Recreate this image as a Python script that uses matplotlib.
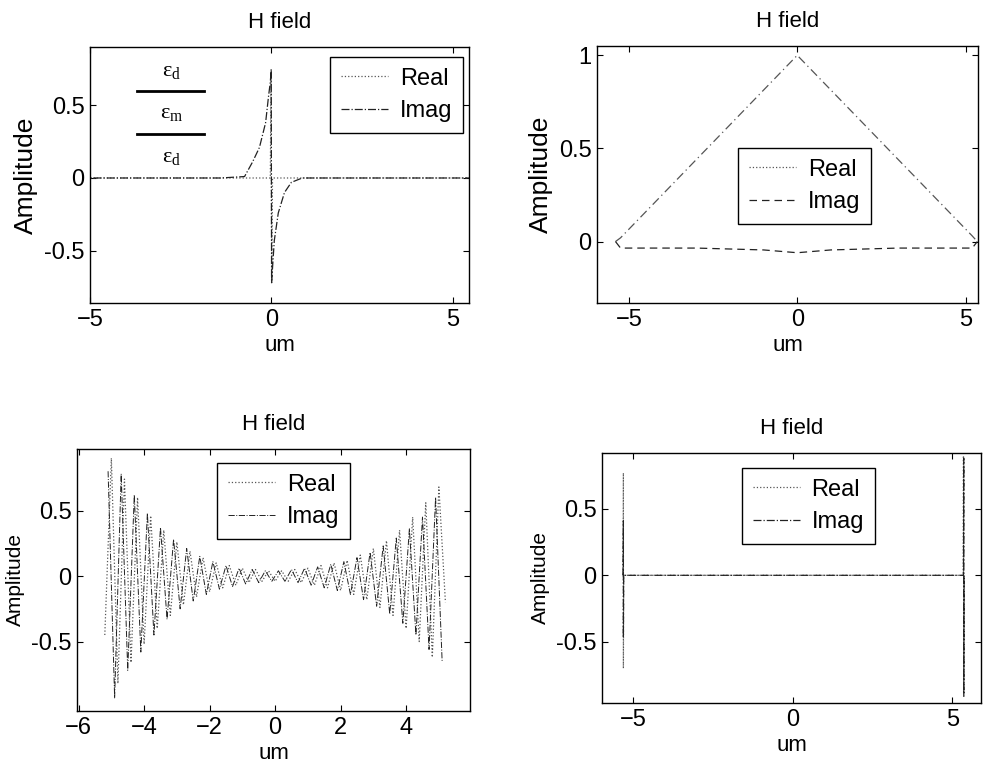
import matplotlib
matplotlib.use("Agg")
import matplotlib.pyplot as plt
from matplotlib.lines import Line2D
import numpy as np

plt.rcParams['font.family'] = ['Liberation Sans', 'DejaVu Sans']
plt.rcParams['mathtext.fontset'] = 'custom'
plt.rcParams['mathtext.rm'] = 'Liberation Serif'
plt.rcParams['mathtext.it'] = 'Liberation Serif'

# panel 1: surface mode, field bound to the metal layer
p1_real_x = [-6.0, -0.03, -0.01, 0.0, 0.01, 0.03, 6.0]
p1_real_y = [0.0, 0.0, 0.73, 0.0, -0.72, 0.0, 0.0]
p1_imag_x = [-6.0, -1.4, -0.74, -0.52, -0.33, -0.16, -0.08, -0.03, -0.005,
             0.005, 0.02, 0.08, 0.19, 0.36, 0.55, 0.85, 6.0]
p1_imag_y = [0.0, 0.0, 0.01, 0.11, 0.21, 0.38, 0.56, 0.66, 0.75,
             -0.72, -0.66, -0.43, -0.24, -0.10, -0.03, 0.0, 0.0]

# panel 2: triangle mode
p2_real_x = [-5.4, -5.25, 0.0, 5.2, 5.35]
p2_real_y = [0.0, 0.02, 1.0, 0.03, 0.0]
p2_imag_x = [-5.4, -5.25, -3.0, -1.0, 0.0, 1.0, 3.0, 5.2, 5.35]
p2_imag_y = [0.0, -0.035, -0.035, -0.045, -0.06, -0.045, -0.035, -0.035, 0.0]

# panel 3: oscillating mode (sample grid every 0.2 um)
p3_real_x = np.linspace(-5.2, 5.2, 53)
p3_real_y = [-0.45, 0.90, -0.82, 0.74, -0.66, 0.60, -0.52, 0.46, -0.40, 0.35,
             -0.30, 0.26, -0.22, 0.19, -0.16, 0.14, -0.12, 0.10, -0.09, 0.08,
             -0.07, 0.06, -0.05, 0.05, -0.04, 0.04,
             -0.04,
             0.04, -0.04, 0.05, -0.05, 0.06, -0.07, 0.08, -0.09, 0.10, -0.11,
             0.12, -0.14, 0.16, -0.18, 0.21, -0.24, 0.27, -0.30, 0.35, -0.40,
             0.45, -0.50, 0.56, -0.62, 0.68, -0.20]
p3_imag_x = np.linspace(-5.1, 5.1, 52)
p3_imag_y = [0.80, -0.93, 0.78, -0.72, 0.62, -0.58, 0.48, -0.45, 0.37, -0.33,
             0.28, -0.25, 0.21, -0.19, 0.15, -0.14, 0.11, -0.10, 0.08, -0.08,
             0.06, -0.06, 0.05, -0.05, 0.04, -0.04,
             0.04, -0.04, 0.05, -0.05, 0.06, -0.07, 0.07, -0.09, 0.09, -0.11,
             0.11, -0.14, 0.14, -0.18, 0.18, -0.23, 0.23, -0.29, 0.29, -0.36,
             0.36, -0.45, 0.45, -0.56, 0.60, -0.65]

# panel 4: field only at the boundaries
p4_real_x = [-5.31, -5.30, -5.30, -5.29, 5.34, 5.35, 5.36, 5.37]
p4_real_y = [0.0, 0.77, -0.70, 0.0, 0.0, 0.90, -0.92, 0.0]
p4_imag_x = [-5.31, -5.30, -5.30, -5.29, 5.35, 5.36, 5.36, 5.37]
p4_imag_y = [0.0, 0.41, -0.47, 0.0, 0.0, 0.88, -0.90, 0.0]

real_color = "#555555"
imag_color = "#222222"

fig = plt.figure(figsize=(9.83, 7.73), dpi=100)
ax1 = fig.add_axes([0.0916, 0.608, 0.3856, 0.331])
ax2 = fig.add_axes([0.6073, 0.608, 0.3876, 0.3325])
ax3 = fig.add_axes([0.0783, 0.0802, 0.3998, 0.339])
ax4 = fig.add_axes([0.6124, 0.0906, 0.3856, 0.3234])


def style_axes(ax, ylabel_size):
    ax.set_title("H field", fontsize=16, pad=14)
    ax.set_xlabel("um", fontsize=16, labelpad=3)
    ax.set_ylabel("Amplitude", fontsize=ylabel_size, labelpad=4)
    ax.tick_params(direction="in", top=True, right=True, length=4,
                   width=0.8, labelsize=17, pad=4)
    for s in ax.spines.values():
        s.set_linewidth(1.0)


def add_legend(ax, pos, handles=None):
    kw = dict(loc="upper left", bbox_to_anchor=pos,
              bbox_transform=fig.transFigure, fontsize=17,
              fancybox=False, framealpha=1, edgecolor="black",
              borderaxespad=0, handlelength=2.0, borderpad=0.45,
              labelspacing=0.45, handletextpad=0.5)
    if handles is None:
        leg = ax.legend(**kw)
    else:
        leg = ax.legend(handles=handles, **kw)
    leg.get_frame().set_linewidth(1.0)


# panel 1
ax1.plot(p1_real_x, p1_real_y, ls=":", color=real_color, lw=0.9, label="Real")
ax1.plot(p1_imag_x, p1_imag_y, ls="-.", color=imag_color, lw=0.9, label="Imag")
ax1.set_xlim(-5, 5.45)
ax1.set_ylim(-0.86, 0.9)
ax1.set_xticks([-5, 0, 5])
ax1.set_yticks([-0.5, 0, 0.5])
ax1.set_yticklabels(["-0.5", "0", "0.5"])
style_axes(ax1, 19)
add_legend(ax1, (0.3357, 0.9263))
# layer sketch
ax1.plot([-3.7, -1.85], [0.6, 0.6], color="black", lw=2)
ax1.plot([-3.7, -1.85], [0.3, 0.3], color="black", lw=2)
ax1.text(-2.75, 0.74, r"$\mathrm{\varepsilon_d}$", fontsize=16, ha="center", va="center")
ax1.text(-2.75, 0.45, r"$\mathrm{\varepsilon_m}$", fontsize=16, ha="center", va="center")
ax1.text(-2.75, 0.15, r"$\mathrm{\varepsilon_d}$", fontsize=16, ha="center", va="center")

# panel 2
ax2.plot(p2_real_x, p2_real_y, ls=(0, (7, 3, 1, 3)), color=real_color, lw=0.9)
ax2.plot(p2_imag_x, p2_imag_y, ls=(0, (6, 4)), color=imag_color, lw=0.9)
ax2.set_xlim(-5.95, 5.37)
ax2.set_ylim(-0.33, 1.05)
ax2.set_xticks([-5, 0, 5])
ax2.set_yticks([0, 0.5, 1])
ax2.set_yticklabels(["0", "0.5", "1"])
style_axes(ax2, 19)
add_legend(ax2, (0.7508, 0.8085), handles=[
    Line2D([], [], ls=":", color=real_color, lw=0.9, label="Real"),
    Line2D([], [], ls=(0, (6, 4)), color=imag_color, lw=0.9, label="Imag")])

# panel 3
ax3.plot(p3_real_x, p3_real_y, ls=":", color=real_color, lw=0.9, label="Real")
ax3.plot(p3_imag_x, p3_imag_y, ls="-.", color=imag_color, lw=0.7, label="Imag")
ax3.set_xlim(-6.05, 5.95)
ax3.set_ylim(-1.03, 0.97)
ax3.set_xticks([-6, -4, -2, 0, 2, 4])
ax3.set_yticks([-0.5, 0, 0.5])
ax3.set_yticklabels(["-0.5", "0", "0.5"])
style_axes(ax3, 15)
add_legend(ax3, (0.2208, 0.401))

# panel 4
ax4.plot(p4_real_x, p4_real_y, ls=":", color=real_color, lw=0.9, label="Real")
ax4.plot(p4_imag_x, p4_imag_y, ls="-.", color=imag_color, lw=0.9, label="Imag")
ax4.set_xlim(-5.97, 5.9)
ax4.set_ylim(-0.96, 0.92)
ax4.set_xticks([-5, 0, 5])
ax4.set_yticks([-0.5, 0, 0.5])
ax4.set_yticklabels(["-0.5", "0", "0.5"])
style_axes(ax4, 15)
add_legend(ax4, (0.7548, 0.3946))

fig.savefig("out.png", dpi=100)
